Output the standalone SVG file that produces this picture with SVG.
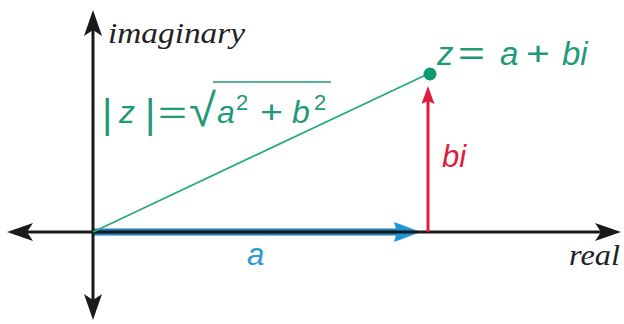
<svg xmlns="http://www.w3.org/2000/svg" width="624" height="324" viewBox="0 0 624 324">
<style>
.axis{stroke:#1a1a1a;stroke-width:3;fill:none}
.lbl{font-family:"Liberation Serif","Times New Roman",serif;font-style:italic;fill:#222}
.m{font-family:"Liberation Sans",Arial,sans-serif;font-style:italic}
.u{font-family:"Liberation Sans",Arial,sans-serif;font-style:normal}
.g{fill:#1f9a78}
</style>
<defs>
<marker id="ax" markerUnits="userSpaceOnUse" viewBox="0 0 26 18" refX="20" refY="9" markerWidth="26" markerHeight="18" orient="auto-start-reverse">
<path d="M0,0 L26,9 L0,18 L6,9 Z" fill="#1a1a1a"/>
</marker>
<marker id="bl" markerUnits="userSpaceOnUse" viewBox="0 0 27 20" refX="4" refY="10" markerWidth="27" markerHeight="20" orient="auto">
<path d="M0,0 L27,10 L0,20 L3,10 Z" fill="#1e96d6"/>
</marker>
<marker id="rd" markerUnits="userSpaceOnUse" viewBox="0 0 13 18" refX="6.5" refY="15" markerWidth="13" markerHeight="18" orient="0">
<path d="M0,18 L6.5,0 L13,18 L6.5,15 Z" fill="#dc1e3c"/>
</marker>
</defs>
<rect width="624" height="324" fill="#ffffff"/>
<g id="connectors">
<line id="blue-a" x1="93" y1="232" x2="398" y2="232" stroke="#1e7fc0" stroke-width="7" marker-end="url(#bl)"/>
<line id="real-axis" class="axis" x1="13" y1="232" x2="615" y2="232" marker-start="url(#ax)" marker-end="url(#ax)"/>
<line id="imag-axis" class="axis" x1="93" y1="16" x2="93" y2="314" marker-start="url(#ax)" marker-end="url(#ax)"/>
<line id="modulus" x1="93" y1="232" x2="430" y2="73" stroke="#2aa882" stroke-width="1.8"/>
<line id="red-bi" x1="428" y1="232" x2="428" y2="101" stroke="#dc1e3c" stroke-width="3" marker-end="url(#rd)"/>
</g>
<g id="point-z">
<circle cx="430" cy="74" r="6.5" fill="#119a70"/>
<text class="m g" font-size="33" x="437" y="65">z</text>
<text class="u g" font-size="33" x="458" y="65" textLength="27" lengthAdjust="spacingAndGlyphs">=</text>
<text class="m g" font-size="33" x="500" y="65">a</text>
<text class="u g" font-size="33" x="526" y="65" textLength="24" lengthAdjust="spacingAndGlyphs">+</text>
<text class="m g" font-size="33" x="562" y="65">bi</text>
</g>
<g id="modulus-label">
<text class="u g" font-size="40" x="102" y="128">|</text>
<text class="m g" font-size="32" x="119" y="123">z</text>
<text class="u g" font-size="40" x="145" y="128">|</text>
<text class="u g" font-size="32" x="158" y="123" textLength="29" lengthAdjust="spacingAndGlyphs">=</text>
<text class="u g" font-size="46" x="189" y="126" textLength="27" lengthAdjust="spacingAndGlyphs">√</text>
<line x1="213" y1="82" x2="331" y2="82" stroke="#1f9a78" stroke-width="1.6"/>
<text class="m g" font-size="32" x="217" y="123">a</text>
<text class="u g" font-size="22" x="236" y="110">2</text>
<text class="u g" font-size="32" x="260" y="123" textLength="23" lengthAdjust="spacingAndGlyphs">+</text>
<text class="m g" font-size="32" x="292" y="123">b</text>
<text class="u g" font-size="22" x="314" y="110">2</text>
</g>
<g id="label-bi">
<text class="m" font-size="31" x="442" y="167" fill="#dc1e3c">bi</text>
</g>
<g id="label-a">
<text class="m" font-size="31" x="247" y="265" fill="#2a9ad6">a</text>
</g>
<g id="axis-labels">
<text class="lbl" font-size="30" x="108" y="43" textLength="137" lengthAdjust="spacingAndGlyphs">imaginary</text>
<text class="lbl" font-size="30" x="569" y="265" textLength="51" lengthAdjust="spacingAndGlyphs">real</text>
</g>
</svg>
